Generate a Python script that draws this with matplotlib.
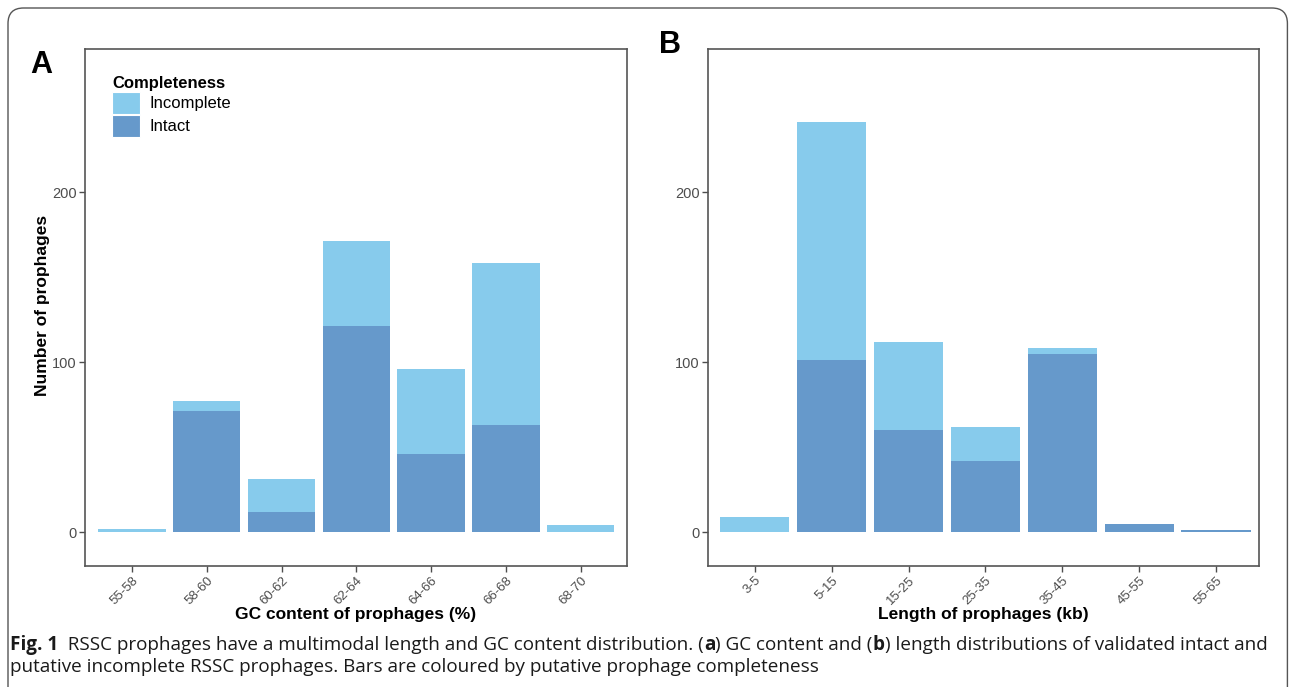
import matplotlib
matplotlib.use("Agg")
import matplotlib.pyplot as plt
from matplotlib.patches import FancyBboxPatch, Patch
import numpy as np

# ---- data ----
gc_categories = ["55-58", "58-60", "60-62", "62-64", "64-66", "66-68", "68-70"]
gc_intact = [0, 71, 12, 121, 46, 63, 0]
gc_incomplete = [2, 6, 19, 50, 50, 95, 4]

len_categories = ["3-5", "5-15", "15-25", "25-35", "35-45", "45-55", "55-65"]
len_intact = [0, 101, 60, 42, 105, 5, 1]
len_incomplete = [9, 140, 52, 20, 3, 0, 0]

series_names = ["Incomplete", "Intact"]
col_incomplete = "#87CBEC"
col_intact = "#6699CB"

plt.rcParams['font.family'] = ['Liberation Sans', 'DejaVu Sans']

W, H = 1293, 687
fig = plt.figure(figsize=(W/100, H/100), dpi=100)

# outer rounded frame
frame = FancyBboxPatch((8/W, -0.1), (1290-8)/W - 0.002, 1 - 8/H + 0.1,
                       boxstyle="round,pad=0,rounding_size=0.012",
                       transform=fig.transFigure, fill=False,
                       edgecolor="#555555", linewidth=1.0, mutation_aspect=W/H)
fig.patches.append(frame)

AX_TOP, AX_BOT = 49, 566
axA = fig.add_axes([85/W, 1-AX_BOT/H, (627-85)/W, (AX_BOT-AX_TOP)/H])
axB = fig.add_axes([708/W, 1-AX_BOT/H, (1259-708)/W, (AX_BOT-AX_TOP)/H])

def draw(ax, cats, intact, incomplete, xlim, xlabel):
    x = np.arange(len(cats))
    ax.bar(x, intact, width=0.9, color=col_intact, linewidth=0, zorder=2)
    ax.bar(x, incomplete, bottom=intact, width=0.9, color=col_incomplete,
           linewidth=0, zorder=2)
    ax.set_xlim(*xlim)
    ax.set_ylim((532-AX_BOT)/1.7, (532-AX_TOP)/1.7)
    ax.set_yticks([0, 100, 200])
    ax.set_xticks(x)
    ax.set_xticklabels(cats, rotation=45, ha="right", va="top", rotation_mode="anchor")
    ax.tick_params(axis="x", colors="#4d4d4d", labelsize=9.5, length=4, width=1.0, pad=2)
    ax.tick_params(axis="y", colors="#4d4d4d", labelsize=10.5, length=4, width=1.0, pad=2)
    for s in ax.spines.values():
        s.set_color("#555555")
        s.set_linewidth(1.2)
    ax.set_xlabel(xlabel, fontsize=12.5, fontweight="bold", color="black", va="center")
    ax.xaxis.set_label_coords(0.5, (AX_BOT-614)/(AX_BOT-AX_TOP))

draw(axA, gc_categories, gc_intact, gc_incomplete, (-0.63, 6.62), "GC content of prophages (%)")
draw(axB, len_categories, len_intact, len_incomplete, (-0.61, 6.56), "Length of prophages (kb)")
axA.set_ylabel("Number of prophages", fontsize=12.5, fontweight="bold", va="center")
axA.yaxis.set_label_coords((43-85)/542, (AX_BOT-305)/(AX_BOT-AX_TOP))

# legend
handles = [Patch(facecolor=col_incomplete, edgecolor="white", linewidth=0.8),
           Patch(facecolor=col_intact, edgecolor="white", linewidth=0.8)]
leg = axA.legend(handles, series_names, title="Completeness", loc="upper left",
                 bbox_to_anchor=((112-85)/542, (AX_BOT-76)/(AX_BOT-AX_TOP)), frameon=False, fontsize=12,
                 title_fontproperties={"weight": "bold", "size": 12},
                 handlelength=1.65, handleheight=1.65, handletextpad=0.6,
                 labelspacing=0.05, borderaxespad=0, borderpad=0)
leg._legend_box.align = "left"

# panel letters
fig.text(41/W, 1-65/H, "A", fontsize=22, fontweight="bold", va="center", ha="center")
fig.text(670/W, 1-45/H, "B", fontsize=22, fontweight="bold", va="center", ha="center")

# caption
fig.canvas.draw()
renderer = fig.canvas.get_renderer()
cap_font = ['Open Sans', 'DejaVu Sans']

line1 = [("Fig. 1", True), ("  RSSC prophages have a multimodal length and GC content distribution. (", False),
         ("a", True), (") GC content and (", False), ("b", True),
         (") length distributions of validated intact and", False)]
line2 = [("putative incomplete RSSC prophages. Bars are coloured by putative prophage completeness", False)]

def caption_line(y, parts, size):
    x = 10 / W
    texts = []
    for txt, bold in parts:
        t = fig.text(x, y, txt, fontsize=size, fontweight="bold" if bold else "normal",
                     family=cap_font, va="baseline", ha="left", color="#1a1a1a")
        bb = t.get_window_extent(renderer=renderer)
        x = bb.x1 / W
        texts.append(t)
    return texts, x * W - 10

# fit line 1 to reference width
base = 11.0
texts, width = caption_line(1 - 650/H, line1, base)
for t in texts:
    t.remove()
size = base * (1258 / width)
caption_line(1 - 650/H, line1, size)
caption_line(1 - 672/H, line2, size)

fig.savefig("out.png", dpi=100)
